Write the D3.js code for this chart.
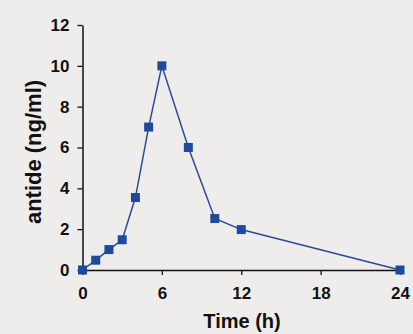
<!DOCTYPE html>
<html>
<head>
<meta charset="utf-8">
<script src="https://cdn.jsdelivr.net/npm/d3@7"></script>
<style>
  html, body { margin: 0; padding: 0; background: #efedeb; }
  svg { display: block; }
</style>
</head>
<body>
<div id="chart"></div>
<script>
// Data
const times = [0, 1, 2, 3, 4, 5, 6, 8, 10, 12, 24];
const concentrations = [0, 0.48, 1.0, 1.48, 3.55, 7.0, 10.0, 6.0, 2.52, 1.98, 0];
const xTicks = [0, 6, 12, 18, 24];
const yTicks = [0, 2, 4, 6, 8, 10, 12];

const width = 413;
const height = 334;
const lineColor = "#2b4a98";
const markerColor = "#1f4a9c";

const svg = d3.select("#chart")
    .append("svg")
    .attr("width", width)
    .attr("height", height);

// Plot area boundaries
const plotLeft = 82.5;
const plotRight = 400;
const plotTop = 25;
const plotBottom = 270;

const x = d3.scaleLinear().domain([0, 24]).range([plotLeft, plotRight]);
const y = d3.scaleLinear().domain([0, 12]).range([plotBottom, plotTop]);

const font = "'Liberation Sans', Arial, sans-serif";

// Y axis
const yAxis = svg.append("g")
    .attr("transform", `translate(${plotLeft},0)`)
    .call(d3.axisLeft(y).tickValues(yTicks).tickSize(5).tickPadding(8).tickSizeOuter(0));
yAxis.select(".domain").attr("stroke", "#111").attr("stroke-width", 1.5);
yAxis.selectAll(".tick line").attr("stroke", "#111").attr("stroke-width", 1.3);
yAxis.selectAll(".tick text")
    .attr("fill", "#111")
    .attr("font-family", font)
    .attr("font-weight", "bold")
    .attr("font-size", "17px");

// X axis
const xAxis = svg.append("g")
    .attr("transform", `translate(0,${plotBottom})`)
    .call(d3.axisBottom(x).tickValues(xTicks).tickSize(5).tickPadding(12).tickSizeOuter(0));
xAxis.select(".domain").attr("stroke", "#111").attr("stroke-width", 1.5);
xAxis.selectAll(".tick line").attr("stroke", "#111").attr("stroke-width", 1.3);
xAxis.selectAll(".tick text")
    .attr("fill", "#111")
    .attr("font-family", font)
    .attr("font-weight", "bold")
    .attr("font-size", "17px");

// Axis titles
svg.append("text")
    .attr("x", 242)
    .attr("y", 328)
    .attr("text-anchor", "middle")
    .attr("fill", "#111")
    .attr("font-family", font)
    .attr("font-weight", "bold")
    .attr("font-size", "20px")
    .text("Time (h)");

svg.append("text")
    .attr("transform", "translate(41,152) rotate(-90)")
    .attr("text-anchor", "middle")
    .attr("fill", "#111")
    .attr("font-family", font)
    .attr("font-weight", "bold")
    .attr("font-size", "22px")
    .text("antide (ng/ml)");

// Data line
const points = times.map((t, i) => ({ t: t, v: concentrations[i] }));

svg.append("path")
    .datum(points)
    .attr("fill", "none")
    .attr("stroke", lineColor)
    .attr("stroke-width", 1.5)
    .attr("d", d3.line().x(d => x(d.t)).y(d => y(d.v)));

// Square markers
const size = 9;
svg.selectAll("rect.marker")
    .data(points)
    .enter()
    .append("rect")
    .attr("class", "marker")
    .attr("x", d => x(d.t) - size / 2)
    .attr("y", d => y(d.v) - size / 2)
    .attr("width", size)
    .attr("height", size)
    .attr("fill", markerColor);
</script>
</body>
</html>
